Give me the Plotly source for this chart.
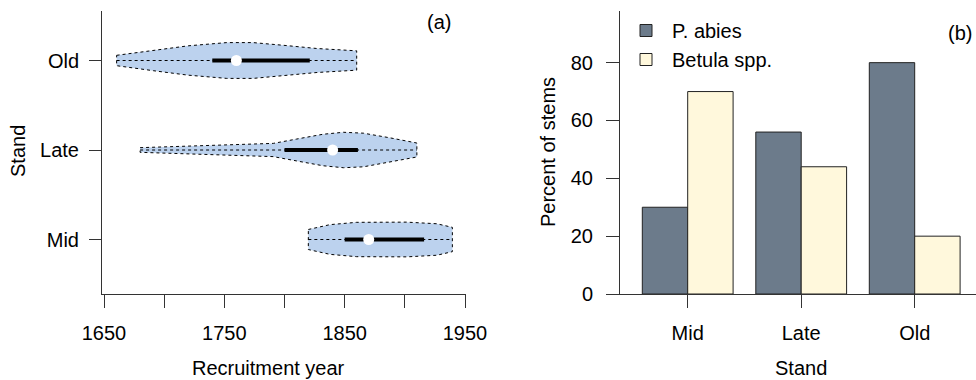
import plotly.graph_objects as go

# ---------------- data ----------------
stands = ["Mid", "Late", "Old"]

# violin outlines (year, relative density)
old_years = [1660.5, 1691, 1720, 1752, 1774, 1799, 1827, 1860]
old_dens = [0.29, 0.57, 0.82, 1.0, 1.0, 0.85, 0.67, 0.54]
late_years = [1680, 1721.5, 1763, 1790.7, 1810, 1832, 1849, 1865.5, 1887.7, 1910]
late_dens = [0.13, 0.22, 0.31, 0.37, 0.61, 0.88, 0.99, 0.94, 0.68, 0.39]
mid_years = [1819.8, 1837.8, 1860, 1901.6, 1926.5, 1939.5]
mid_dens = [0.56, 0.83, 0.96, 0.97, 0.88, 0.68]

medians = {"Mid": 1870, "Late": 1840, "Old": 1760}
q1 = {"Mid": 1850, "Late": 1800, "Old": 1740}
q3 = {"Mid": 1916, "Late": 1861, "Old": 1821}

xticks_a = [1650, 1700, 1750, 1800, 1850, 1900, 1950]
xticklabels_a = ["1650", "", "1750", "", "1850", "", "1950"]

p_abies = [30, 56, 80]
betula = [70, 44, 20]
yticks_b = [0, 20, 40, 60, 80]

# ---------------- geometry helpers ----------------
W, H = 976, 380
def px(x):
    return x / W
def py(y):
    return (H - y) / H

FONT = "Liberation Sans, Arial, sans-serif"
AXC = "#333333"
VFILL = "#BCD2EE"
MAXHW = 0.2  # half width in category units

fig = go.Figure()

violins = {"Old": (old_years, old_dens), "Late": (late_years, late_dens), "Mid": (mid_years, mid_dens)}
for s in stands:
    yrs, dens = violins[s]
    c = stands.index(s)
    xs = list(yrs) + list(reversed(yrs)) + [yrs[0]]
    ys = [c + MAXHW * d for d in dens] + [c - MAXHW * d for d in reversed(dens)] + [c + MAXHW * dens[0]]
    fig.add_trace(go.Scatter(x=xs, y=ys, mode="lines", fill="toself", fillcolor=VFILL,
                             line=dict(color="black", width=1, dash="dot"),
                             xaxis="x", yaxis="y", showlegend=False, hoverinfo="skip"))
    fig.add_trace(go.Scatter(x=[yrs[0], yrs[-1]], y=[c, c], mode="lines",
                             line=dict(color="black", width=1, dash="dot"),
                             xaxis="x", yaxis="y", showlegend=False, hoverinfo="skip"))
    fig.add_trace(go.Scatter(x=[q1[s], q3[s]], y=[c, c], mode="lines",
                             line=dict(color="black", width=4),
                             xaxis="x", yaxis="y", showlegend=False, hoverinfo="skip"))
    fig.add_trace(go.Scatter(x=[medians[s]], y=[c], mode="markers",
                             marker=dict(color="white", size=11, line=dict(width=0)),
                             xaxis="x", yaxis="y", showlegend=False, hoverinfo="skip"))

fig.add_trace(go.Bar(x=stands, y=p_abies, name="P. abies", marker=dict(color="#6C7B8B", line=dict(color="#222222", width=1)),
                     xaxis="x2", yaxis="y2"))
fig.add_trace(go.Bar(x=stands, y=betula, name="Betula spp.", marker=dict(color="#FFF8DC", line=dict(color="#222222", width=1)),
                     xaxis="x2", yaxis="y2"))

# left panel ranges
x_l0, x_r0 = 102, 466
ppy = (465 - 104) / 300.0
xrange_a = [1650 - (104 - x_l0) / ppy, 1950 + (x_r0 - 465) / ppy]
top, bot = 11, 294
ppc = 89.5
yrange_a = [-(bot - 239.5) / ppc, (239.5 - top) / ppc]

# right panel
ppc2 = 113.5
xrange_b = [-(687.7 - 620) / ppc2, (976 - 687.7) / ppc2]
ppv = (294.3 - 62.7) / 80
yrange_b = [0, (294.3 - top) / ppv]

axis_common = dict(showline=True, linecolor=AXC, linewidth=1, ticks="outside",
                   tickcolor=AXC, tickwidth=1, showgrid=False, zeroline=False, automargin=False,
                   tickfont=dict(family=FONT, size=20, color="black"))

fig.update_layout(
    width=W, height=H, margin=dict(l=0, r=0, t=0, b=0, autoexpand=False),
    paper_bgcolor="white", plot_bgcolor="white",
    font=dict(family=FONT, size=20, color="black"),
    barmode="group", bargap=0.2, bargroupgap=0,
    xaxis=dict(domain=[px(x_l0), px(x_r0)], range=xrange_a, anchor="y", ticklen=13, ticklabelstandoff=8,
               tickvals=xticks_a, ticktext=xticklabels_a, **axis_common),
    yaxis=dict(domain=[py(bot), py(top)], range=yrange_a, anchor="x", ticklen=12, ticklabelstandoff=6,
               tickvals=[0, 1, 2], ticktext=stands, **axis_common),
    xaxis2=dict(domain=[px(620), 1.0], range=xrange_b, anchor="y2", type="category",
                ticklen=13, ticklabelstandoff=8, **axis_common),
    yaxis2=dict(domain=[py(bot), py(top)], range=yrange_b, anchor="x2", ticklen=13, ticklabelstandoff=9,
                tickvals=yticks_b, **axis_common),
    legend=dict(x=px(620), y=py(11), xanchor="left", yanchor="top",
                font=dict(family=FONT, size=20), itemwidth=42, bgcolor="rgba(0,0,0,0)",
                tracegroupgap=0),
    showlegend=True,
    annotations=[
        dict(text="Recruitment year", x=px(268), y=py(368), xref="paper", yref="paper",
             showarrow=False, xanchor="center", yanchor="middle", font=dict(size=20)),
        dict(text="Stand", x=px(18), y=py(151), xref="paper", yref="paper", textangle=-90,
             showarrow=False, xanchor="center", yanchor="middle", font=dict(size=20)),
        dict(text="Stand", x=px(801), y=py(368), xref="paper", yref="paper",
             showarrow=False, xanchor="center", yanchor="middle", font=dict(size=20)),
        dict(text="Percent of stems", x=px(548), y=py(152), xref="paper", yref="paper", textangle=-90,
             showarrow=False, xanchor="center", yanchor="middle", font=dict(size=20)),
        dict(text="(a)", x=px(439), y=py(22), xref="paper", yref="paper",
             showarrow=False, xanchor="center", yanchor="middle", font=dict(size=20)),
        dict(text="(b)", x=px(960), y=py(33), xref="paper", yref="paper",
             showarrow=False, xanchor="center", yanchor="middle", font=dict(size=20)),
    ],
)

fig.write_html("out.html")
